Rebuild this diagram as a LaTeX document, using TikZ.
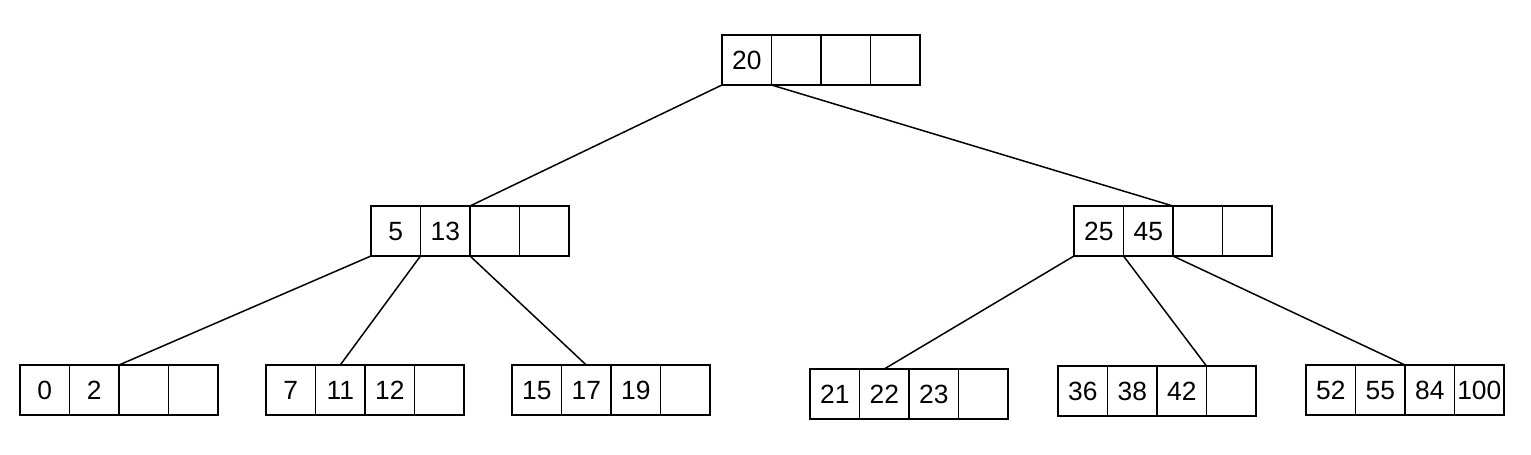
\documentclass[tikz,border=0pt]{standalone}
\usepackage{tikz}
\usepackage{xcolor}
\usepackage{fontspec}
\setmainfont{Liberation Sans}
% one B-tree node: name, left edge, centre height, four keys
\newcommand{\keynode}[7]{%
\node[keycell] (#1-1) at ({#2+24.75},#3) {#4};
\node[keycell] (#1-2) at ({#2+74.25},#3) {#5};
\node[keycell] (#1-3) at ({#2+123.75},#3) {#6};
\node[keycell] (#1-4) at ({#2+173.25},#3) {#7};}

\begin{document}
\begin{tikzpicture}[x=0.02cm, y=-0.02cm, line width=0.85pt,
  keycell/.style={draw=black, fill=white, line width=1pt, minimum width=0.99cm, minimum height=1cm,
    inner sep=0pt, outer sep=0pt, text height=10.8pt, text depth=0pt,
    font=\fontsize{15}{18}\selectfont}]
\useasboundingbox (0,0) rectangle (1531,455);
% Root
\keynode{root}{722}{60}{20}{}{}{}
% Inner nodes
\keynode{lft}{371}{231}{5}{13}{}{}
\keynode{rgt}{1074}{231}{25}{45}{}{}
% Leaves
\keynode{leafa}{20}{390}{0}{2}{}{}
\keynode{leafb}{266}{390}{7}{11}{12}{}
\keynode{leafc}{512}{390}{15}{17}{19}{}
\keynode{leafd}{810}{394}{21}{22}{23}{}
\keynode{leafe}{1058}{391}{36}{38}{42}{}
\keynode{leaff}{1306}{390}{52}{55}{84}{100}
\draw (root-1.south west) -- (lft-2.north east);
\draw (root-1.south east) -- (rgt-2.north east);
\draw (lft-1.south west) -- (leafa-2.north east);
\draw (lft-1.south east) -- (leafb-2.north);
\draw (lft-2.south east) -- (leafc-2.north);
\draw (rgt-1.south west) -- (leafd-2.north);
\draw (rgt-1.south east) -- (leafe-3.north east);
\draw (rgt-2.south east) -- (leaff-2.north east);
\end{tikzpicture}
\end{document}
